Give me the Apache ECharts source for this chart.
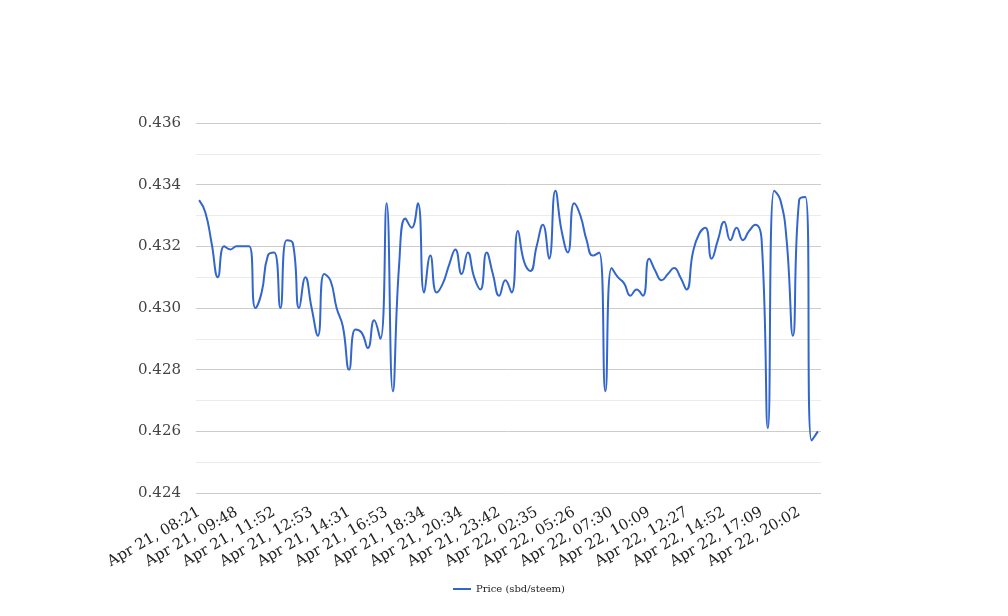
<!DOCTYPE html>
<html>
<head>
<meta charset="utf-8">
<script src="https://cdn.jsdelivr.net/npm/echarts@6/dist/echarts.min.js"></script>
<style>
html,body{margin:0;padding:0;background:#fff;}
#chart{width:1008px;height:616px;}
</style>
</head>
<body>
<div id="chart"></div>
<script>
// Tick labels shown on the x axis (every 6th category)
const tickLabels = [
  "Apr 21, 08:21","Apr 21, 09:48","Apr 21, 11:52","Apr 21, 12:53","Apr 21, 14:31",
  "Apr 21, 16:53","Apr 21, 18:34","Apr 21, 20:34","Apr 21, 23:42","Apr 22, 02:35",
  "Apr 22, 05:26","Apr 22, 07:30","Apr 22, 10:09","Apr 22, 12:27","Apr 22, 14:52",
  "Apr 22, 17:09","Apr 22, 20:02"
];
const labelEvery = 6;
const seriesName = "Price (sbd/steem)";
// Price values (sbd/steem), one per category
const prices = [
  0.4335,0.4331,0.4321,0.4310,0.4320,0.4319,0.4320,0.4320,0.4320,0.4300,
  0.4305,0.4317,0.4318,0.4300,0.4322,0.4321,0.4300,0.4310,0.4300,0.4291,
  0.4311,0.4309,0.4300,0.4294,0.4280,0.4293,0.4292,0.4287,0.4296,0.4290,
  0.4334,0.4273,0.4314,0.4329,0.4326,0.4334,0.4305,0.4317,0.4305,0.4308,
  0.4314,0.4319,0.4311,0.4318,0.4310,0.4306,0.4318,0.4311,0.4304,0.4309,
  0.4305,0.4325,0.4315,0.4312,0.4320,0.4327,0.4316,0.4338,0.4325,0.4318,
  0.4334,0.4330,0.4322,0.4317,0.4318,0.4273,0.4313,0.4310,0.4308,0.4304,
  0.4306,0.4304,0.4316,0.4312,0.4309,0.4311,0.4313,0.4310,0.4306,0.4318,
  0.4324,0.4326,0.4316,0.4322,0.4328,0.4322,0.4326,0.4322,0.4325,0.4327,
  0.4322,0.4261,0.4338,0.4335,0.4322,0.4291,0.4335,0.4336,0.4257,0.4260
];
const yMin = 0.424, yMax = 0.436, yStep = 0.002;

const categories = prices.map((_, i) =>
  (i % labelEvery === 0 && tickLabels[i / labelEvery] !== undefined) ? tickLabels[i / labelEvery] : "");

const chart = echarts.init(document.getElementById('chart'), null, {renderer: 'canvas'});
const font = "'DejaVu Serif', serif";
chart.setOption({
  animation: false,
  grid: {left: 196, right: 187, top: 123, bottom: 123, containLabel: false},
  legend: {
    data: [seriesName],
    bottom: 17,
    left: 448,
    icon: 'rect',
    itemWidth: 18,
    itemHeight: 2,
    itemGap: 5,
    textStyle: {fontFamily: font, fontSize: 10, color: '#222'}
  },
  xAxis: {
    type: 'category',
    data: categories,
    boundaryGap: true,
    axisLine: {show: false},
    axisTick: {show: false},
    splitLine: {show: false},
    axisLabel: {
      interval: labelEvery - 1,
      rotate: 30,
      margin: 18,
      fontFamily: font,
      fontSize: 15,
      color: '#222'
    }
  },
  yAxis: {
    type: 'value',
    min: yMin,
    max: yMax,
    interval: yStep,
    axisLine: {show: false},
    axisTick: {show: false},
    axisLabel: {
      margin: 15,
      fontFamily: font,
      fontSize: 15,
      color: '#444',
      formatter: v => v.toFixed(3)
    },
    splitLine: {show: true, lineStyle: {color: '#cccccc', width: 1}},
    minorTick: {show: false, splitNumber: 2},
    minorSplitLine: {show: true, lineStyle: {color: '#ebebeb', width: 1}}
  },
  series: [{
    name: seriesName,
    type: 'line',
    data: prices,
    smooth: 0.5,
    showSymbol: false,
    symbol: 'none',
    lineStyle: {color: '#3366cc', width: 2},
    itemStyle: {color: '#3366cc'}
  }]
});
</script>
</body>
</html>
